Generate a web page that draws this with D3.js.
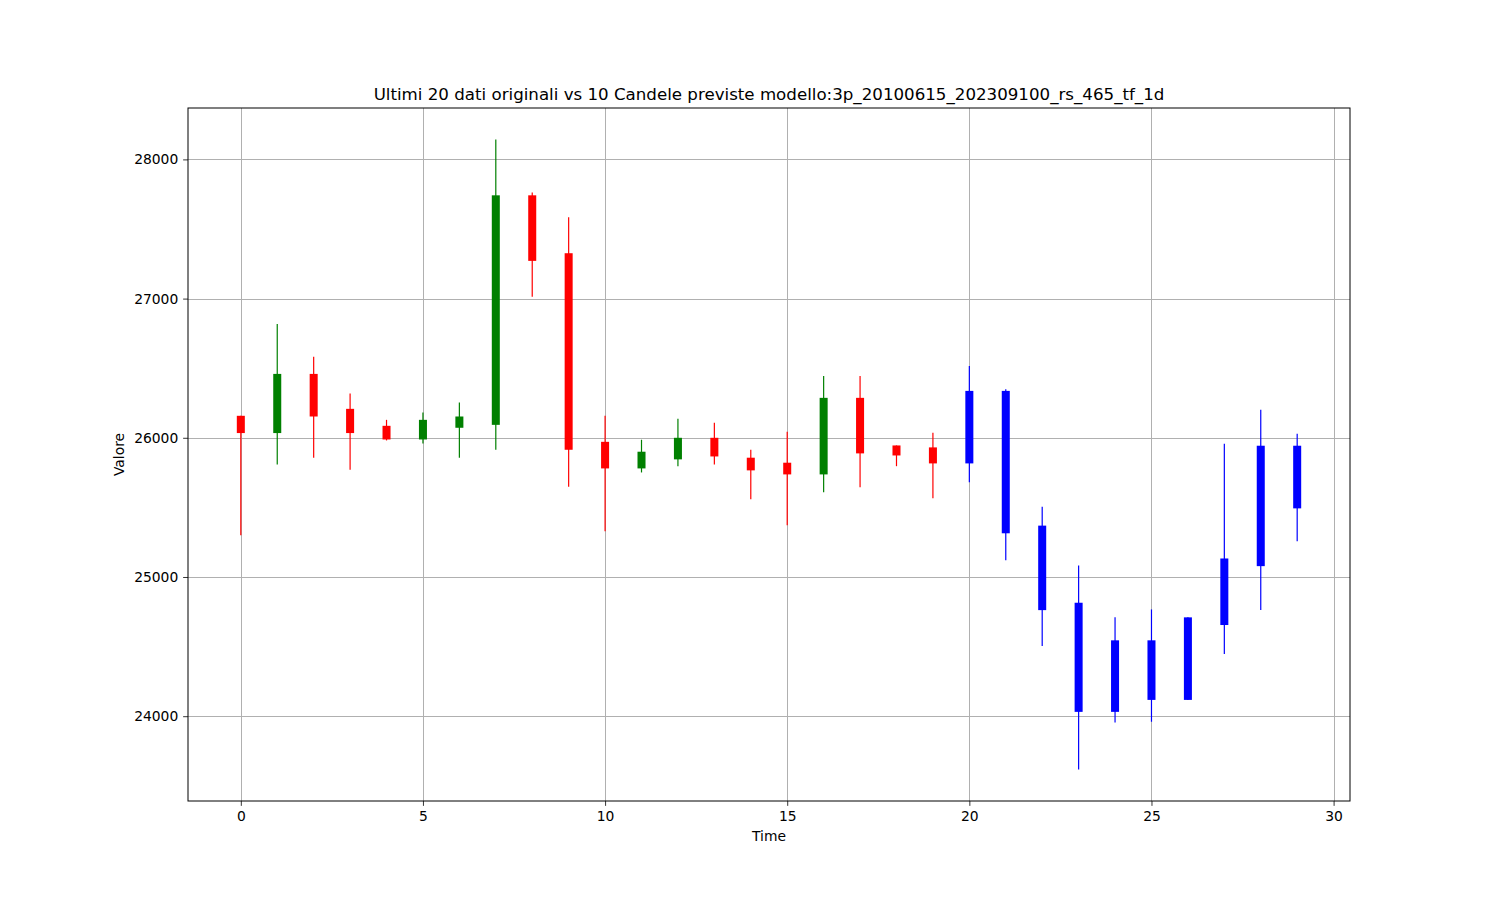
<!DOCTYPE html>
<html><head><meta charset="utf-8">
<script src="https://cdn.jsdelivr.net/npm/d3@7"></script>
<style>body{margin:0;background:#fff}svg{display:block}text{font-family:"DejaVu Sans",sans-serif;fill:#000}</style>
</head><body><svg id="c" width="1500" height="900"></svg>
<script>
const times = d3.range(30);
const opens  = [26158,26034,26459,26208,26086,25988,26072,26093,27742,27326,25971,25780,25845,26000,25857,25821,25737,26287,25945,25931,25816,26337,25369,24815,24031,24545,24117,24655,25078,25943];
const closes = [26034,26459,26153,26034,25988,26129,26153,27742,27271,25914,25780,25900,26000,25866,25766,25737,26287,25888,25873,25816,26337,25314,24762,24031,24545,24117,24710,25133,25943,25493];
const highs  = [26158,26817,26583,26318,26129,26181,26253,28143,27763,27584,26158,25986,26136,26108,25914,26043,26444,26444,25945,26036,26516,26349,25505,25082,24710,24767,24710,25957,26201,26029];
const lows   = [25300,25809,25857,25771,25981,25959,25857,25914,27013,25649,25328,25751,25796,25809,25558,25371,25608,25644,25796,25565,25680,25120,24504,23617,23955,23960,24117,24447,24762,25257];
const nOriginal = 20;
const xTicks = [0,5,10,15,20,25,30];
const yTicks = [24000,25000,26000,27000,28000];
const titleText = "Ultimi 20 dati originali vs 10 Candele previste modello:3p_20100615_202309100_rs_465_tf_1d";

const svg = d3.select("#c");
const L=188, R=1350, T=108, B=801;
const x = d3.scaleLinear().domain([-1.45,30.45]).range([L,R]);
const yMin = d3.min(lows), yMax = d3.max(highs), pad=(yMax-yMin)*0.05;
const y = d3.scaleLinear().domain([yMin-pad, yMax+pad]).range([B,T]);

// grid
svg.append("g").selectAll("line").data(xTicks).join("line")
  .attr("x1",d=>Math.round(x(d))+0.5).attr("x2",d=>Math.round(x(d))+0.5).attr("y1",T).attr("y2",B)
  .attr("stroke","#b0b0b0").attr("stroke-width",1);
svg.append("g").selectAll("line").data(yTicks).join("line")
  .attr("y1",d=>Math.round(y(d))+0.5).attr("y2",d=>Math.round(y(d))+0.5).attr("x1",L).attr("x2",R)
  .attr("stroke","#b0b0b0").attr("stroke-width",1);

const data = times.map(i=>({t:i,o:opens[i],c:closes[i],h:highs[i],l:lows[i]}));
const col = d => d.t>=nOriginal ? "blue" : (d.c>=d.o ? "green" : "red");
const bw = 0.22;
const g = svg.append("g");
g.selectAll("line.w").data(data).join("line").attr("class","w")
  .attr("x1",d=>x(d.t)).attr("x2",d=>x(d.t)).attr("y1",d=>y(d.h)).attr("y2",d=>y(d.l))
  .attr("stroke",col).attr("stroke-width",1.2);
g.selectAll("rect").data(data).join("rect")
  .attr("x",d=>x(d.t-bw/2)).attr("width",x(bw)-x(0))
  .attr("y",d=>y(Math.max(d.o,d.c))).attr("height",d=>Math.max(1,y(Math.min(d.o,d.c))-y(Math.max(d.o,d.c))))
  .attr("fill",col);

// axes
const ax = svg.append("g").attr("transform",`translate(0,${B})`).call(d3.axisBottom(x).tickValues(xTicks).tickSizeOuter(0).tickSize(4.86).tickPadding(4.86));
const ay = svg.append("g").attr("transform",`translate(${L},0)`).call(d3.axisLeft(y).tickValues(yTicks).tickFormat(d3.format("d")).tickSizeOuter(0).tickSize(4.86).tickPadding(4.86));
[ax,ay].forEach(a=>{a.select(".domain").remove();a.selectAll("text").attr("font-size","13.89px").attr("font-family","DejaVu Sans").attr("fill","#000");a.selectAll("line").attr("stroke","#000").attr("stroke-width",0.8);});
ax.selectAll("text").attr("dy","0.76em").attr("y",9.7);
svg.append("rect").attr("x",L).attr("y",T).attr("width",R-L).attr("height",B-T).attr("fill","none").attr("stroke","#000").attr("stroke-width",1);

svg.append("text").attr("x",(L+R)/2).attr("y",100).attr("text-anchor","middle").attr("font-size","16.67px").text(titleText);
svg.append("text").attr("x",(L+R)/2).attr("y",841).attr("text-anchor","middle").attr("font-size","13.89px").text("Time");
svg.append("text").attr("transform",`translate(124,${(T+B)/2}) rotate(-90)`).attr("text-anchor","middle").attr("font-size","13.89px").text("Valore");
</script></body></html>
